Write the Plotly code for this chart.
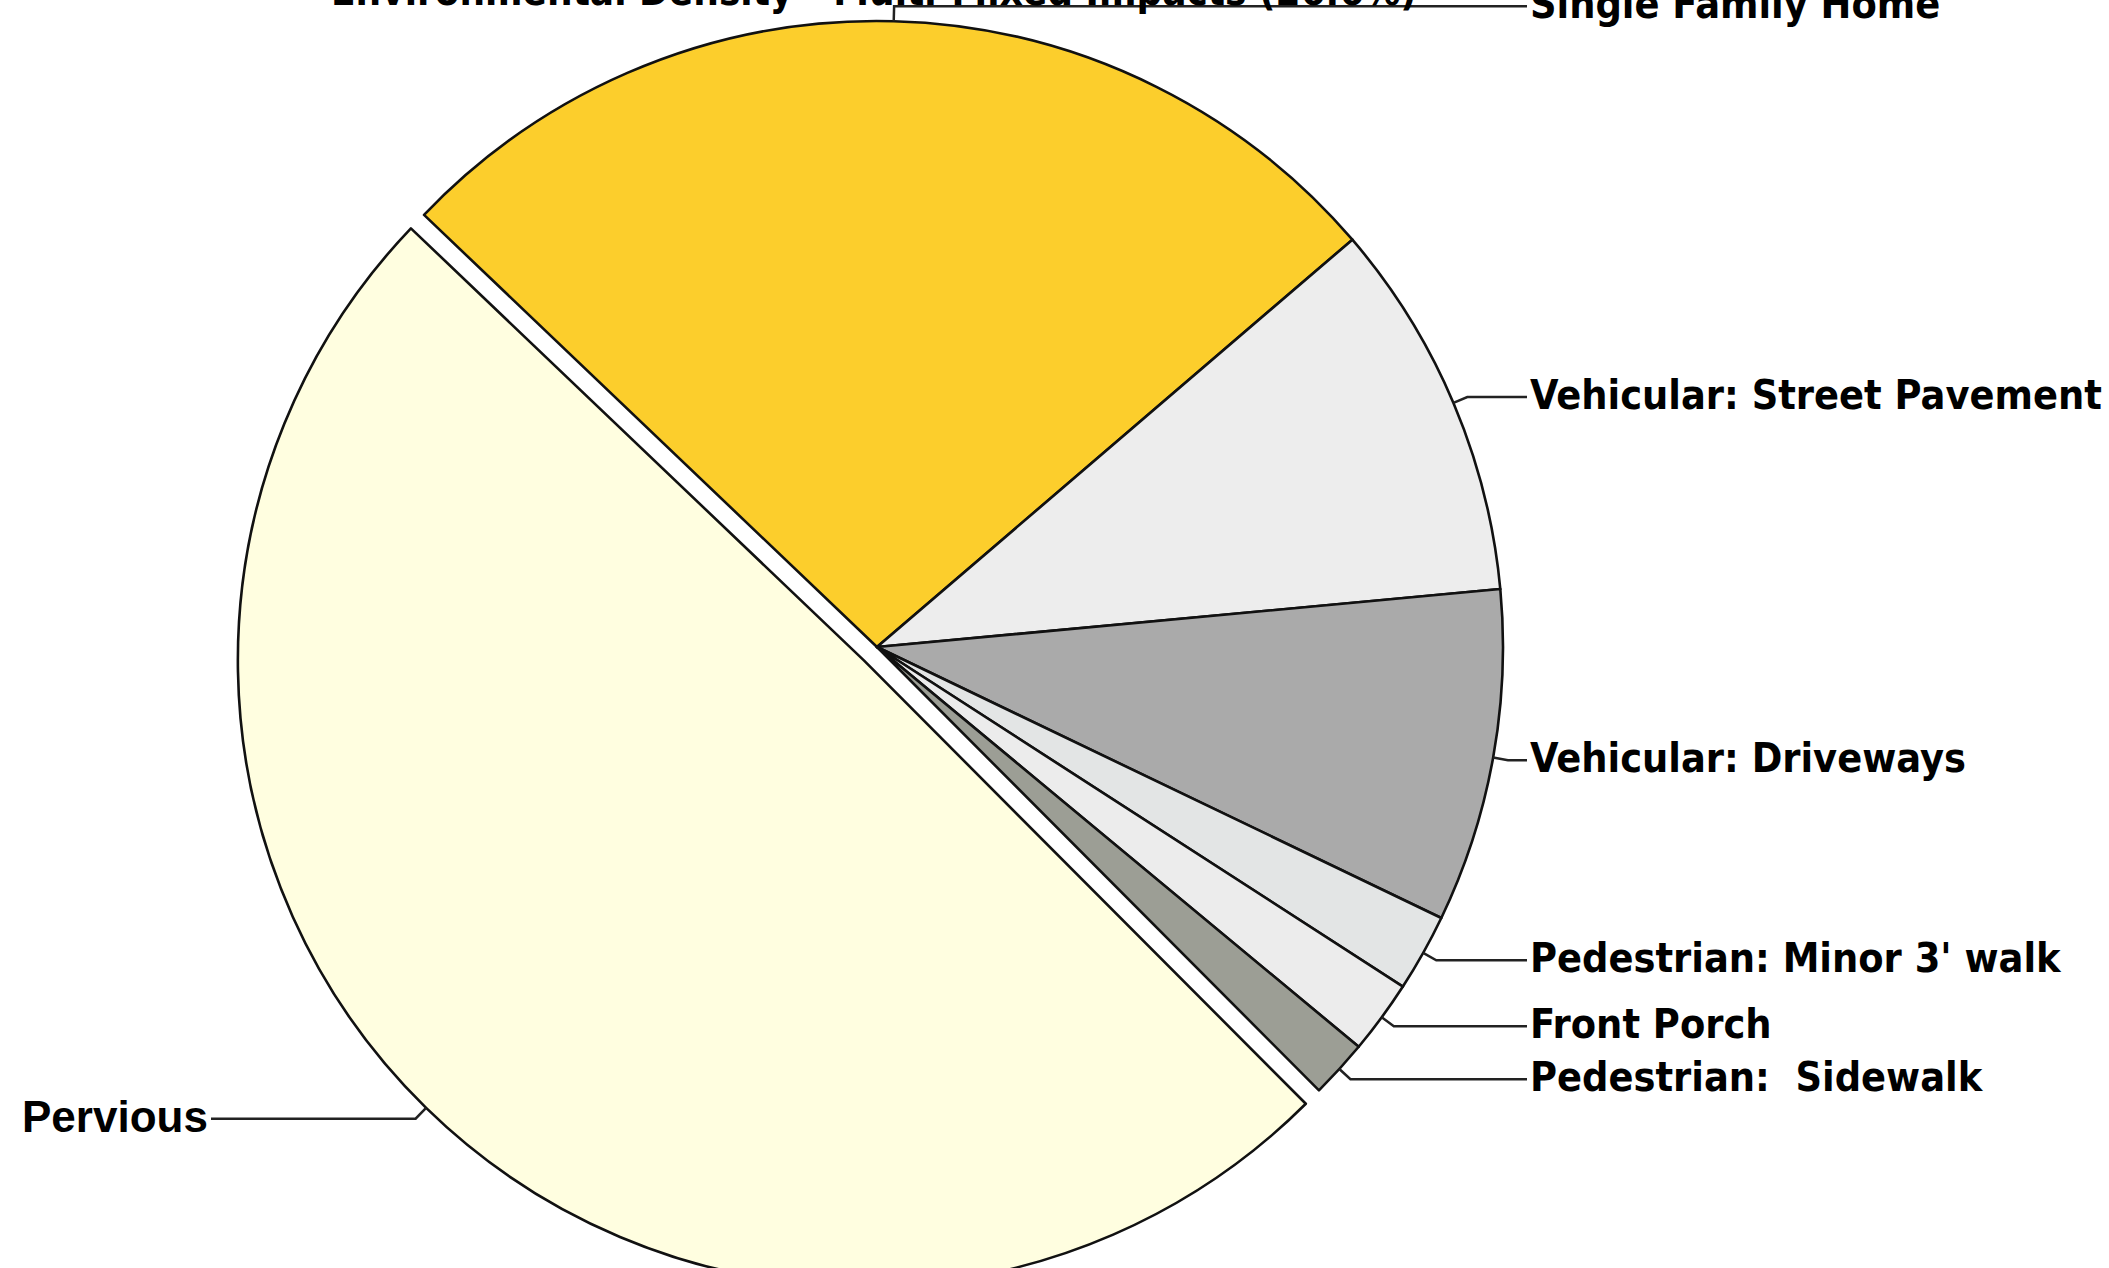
import math
import plotly.graph_objects as go

# ---------------- data ----------------
labels = ["Single Family Home", "Vehicular: Street Pavement", "Vehicular: Driveways",
          "Pedestrian: Minor 3' walk", "Front Porch", "Pedestrian:  Sidewalk", "Pervious"]
values = [26.6, 9.8, 8.6, 2.0, 1.9, 1.5, 49.6]
title_text = "Environmental Density - Multi-Mixed Impacts (26.6%)"

# ---------------- style / layout ----------------
colors = ["#FCCE2C", "#EDEDED", "#AAAAAA", "#E3E5E5", "#ECECEC", "#9C9E95", "#FFFEE0"]
pulls = [0, 0, 0, 0, 0, 0, 0.03]

W, H = 2109, 1320          # figure is a bit taller than the window so the pie is cut at the bottom
CX, CY, R = 877, 647, 626  # pie centre / radius in pixels
ROT = -46.35
RIGHT_X, LEFT_X = 1527, 211
ELBOW = 1.024

NARROW = "DejaVu Sans Condensed, Liberation Sans Narrow, Arial Narrow, sans-serif"
WIDE = "Liberation Sans, Arial, sans-serif"

maxpull = max(pulls)
half = R * (1 + maxpull)
dom_x = [(CX - half) / W, (CX + half) / W]
dom_y = [1 - (CY + half) / H, 1 - (CY - half) / H]

fig = go.Figure(go.Pie(
    labels=labels, values=values, sort=False, direction="clockwise", rotation=ROT,
    pull=pulls, textinfo="none", hoverinfo="label+percent", showlegend=False,
    marker=dict(colors=colors, line=dict(color="#111111", width=2.6)),
    domain=dict(x=dom_x, y=dom_y),
))

def px(x):
    return x / W

def py(y):
    return 1 - y / H

shapes, annotations = [], []
total = sum(values)
cum = 0.0
for lab, v, p in zip(labels, values, pulls):
    a = math.radians(ROT + (cum + v / 2) / total * 360)
    cum += v
    ux, uy = math.sin(a), -math.cos(a)
    cx, cy = CX + p * R * ux, CY + p * R * uy
    ex, ey = cx + R * ux, cy + R * uy
    bx, by = cx + ELBOW * R * ux, cy + ELBOW * R * uy
    right = ux >= 0
    lx = RIGHT_X if right else LEFT_X
    shapes.append(dict(
        type="path", xref="paper", yref="paper",
        path=f"M {px(ex)},{py(ey)} L {px(bx)},{py(by)} L {px(lx)},{py(by)}",
        line=dict(color="#222222", width=2.5),
    ))
    annotations.append(dict(
        text=f"<b>{lab}</b>", xref="paper", yref="paper",
        x=px(lx + (1 if right else -1)), y=py(by - 2),
        xanchor="left" if right else "right", yanchor="middle", showarrow=False,
        font=dict(family=NARROW if right else WIDE, size=41 if right else 44, color="#000000"),
    ))

annotations.append(dict(
    text=f"<b>{title_text}</b>", xref="paper", yref="paper",
    x=px(874), y=py(16), xanchor="center", yanchor="bottom", showarrow=False,
    font=dict(family=NARROW, size=40, color="#000000"),
))

fig.update_layout(
    width=W, height=H, margin=dict(l=0, r=0, t=0, b=0),
    paper_bgcolor="#FFFFFF", plot_bgcolor="#FFFFFF",
    shapes=shapes, annotations=annotations,
)

fig.write_html(
    "out.html",
    config={"displayModeBar": False},
    post_script="document.documentElement.style.overflow='hidden';"
                "document.body.style.margin='0';document.body.style.overflow='hidden';",
)
